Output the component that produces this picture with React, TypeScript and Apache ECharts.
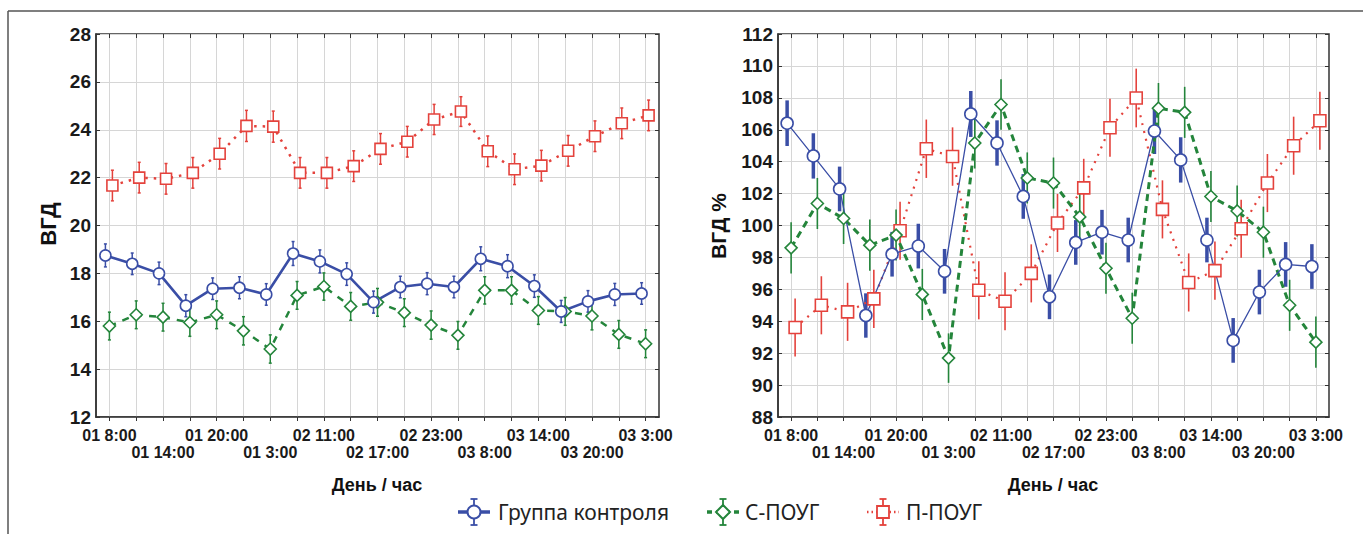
import React, { useEffect, useRef } from "react";
import * as echarts from "echarts";

const categories = [
  "01 8:00", "01 11:00", "01 14:00", "01 17:00", "01 20:00", "01 23:00", "01 3:00",
  "02 8:00", "02 11:00", "02 14:00", "02 17:00", "02 20:00", "02 23:00", "03 4:00",
  "03 8:00", "03 11:00", "03 14:00", "03 17:00", "03 20:00", "03 23:00", "03 3:00",
];

const seriesNames = ["Группа контроля", "С-ПОУГ", "П-ПОУГ"];

// Left panel: ВГД (mm Hg)
const leftTicks = { min: 12, max: 28, interval: 2 };
const ctrlLeft = [18.75, 18.4, 18.0, 16.65, 17.36, 17.4, 17.12, 18.83, 18.5, 17.97, 16.8, 17.43, 17.57, 17.43, 18.61, 18.3, 17.47, 16.41, 16.83, 17.12, 17.16];
const ctrlLeftErr = [0.48, 0.45, 0.47, 0.46, 0.45, 0.46, 0.45, 0.5, 0.48, 0.47, 0.46, 0.45, 0.46, 0.45, 0.5, 0.48, 0.47, 0.46, 0.45, 0.46, 0.45];
const sLeft = [15.8, 16.27, 16.17, 15.95, 16.27, 15.6, 14.84, 17.08, 17.45, 16.62, 16.79, 16.36, 15.84, 15.41, 17.29, 17.29, 16.45, 16.41, 16.22, 15.45, 15.06];
const sLeftErr = [0.58, 0.58, 0.58, 0.58, 0.58, 0.59, 0.59, 0.58, 0.57, 0.58, 0.58, 0.58, 0.59, 0.58, 0.57, 0.57, 0.58, 0.58, 0.58, 0.58, 0.58];
const pLeft = [21.67, 22.0, 21.95, 22.2, 23.0, 24.16, 24.13, 22.2, 22.2, 22.48, 23.2, 23.5, 24.43, 24.76, 23.1, 22.35, 22.5, 23.12, 23.73, 24.27, 24.6];
const pLeftErr = [0.64, 0.64, 0.64, 0.64, 0.64, 0.65, 0.65, 0.64, 0.64, 0.64, 0.64, 0.64, 0.63, 0.62, 0.64, 0.64, 0.64, 0.64, 0.64, 0.64, 0.64];

// Right panel: ВГД %
const rightTicks = { min: 88, max: 112, interval: 2 };
const ctrlRight = [106.41, 104.36, 102.29, 94.36, 98.2, 98.71, 97.13, 106.99, 105.17, 101.82, 95.53, 98.94, 99.58, 99.09, 105.92, 104.11, 99.09, 92.8, 95.83, 97.56, 97.43];
const ctrlRightErr = [1.43, 1.42, 1.4, 1.39, 1.4, 1.4, 1.4, 1.44, 1.42, 1.4, 1.4, 1.4, 1.4, 1.4, 1.44, 1.42, 1.4, 1.4, 1.4, 1.4, 1.4];
const sRight = [98.6, 101.38, 100.44, 98.77, 99.4, 95.68, 91.69, 105.17, 107.58, 102.98, 102.66, 100.54, 97.32, 94.19, 107.35, 107.09, 101.82, 100.91, 99.58, 95.0, 92.69];
const sRightErr = [1.6, 1.6, 1.6, 1.6, 1.6, 1.6, 1.55, 1.6, 1.58, 1.6, 1.6, 1.6, 1.6, 1.6, 1.58, 1.6, 1.6, 1.6, 1.6, 1.6, 1.6];
const pRight = [93.61, 95.0, 94.59, 95.4, 99.67, 104.81, 104.32, 95.94, 95.25, 97.0, 100.16, 102.36, 106.13, 107.99, 101.01, 96.43, 97.17, 99.8, 102.66, 105.0, 106.56];
const pRightErr = [1.82, 1.82, 1.82, 1.82, 1.82, 1.83, 1.83, 1.82, 1.82, 1.82, 1.82, 1.82, 1.82, 1.84, 1.82, 1.82, 1.82, 1.82, 1.82, 1.82, 1.82];

const BLUE = "#3a4ea6";
const GREEN = "#24853b";
const RED = "#e4423c";
const FONT = "Liberation Sans";
const GRID_COLOR = "#d6d6d6";

export default function App() {
  const ref = useRef<HTMLDivElement>(null);

  useEffect(() => {
    const chart = echarts.init(ref.current as HTMLDivElement, null, { renderer: "svg" });
    const grids: any[] = [];
    const xAxis: any[] = [];
    const yAxis: any[] = [];
    const series: any[] = [];

    const labelStyle = { fontSize: 16, fontWeight: "bold", color: "#1a1a1a", fontFamily: FONT, lineHeight: 18 };

    const addPanel = (p: any) => {
      const top = 34;
      const bottom = 117;
      const mainGrid = grids.length;
      grids.push({ left: p.left, right: p.right, top, bottom, show: true, borderColor: "#333", borderWidth: 1.5 });
      const xMain = xAxis.length;
      xAxis.push({
        type: "category", gridIndex: mainGrid, data: categories, boundaryGap: true, position: "bottom",
        axisLine: { show: true, lineStyle: { color: "#333", width: 1.5 } },
        axisTick: { show: true, alignWithLabel: true, interval: 0, length: 4, lineStyle: { color: "#333" } },
        axisLabel: {
          ...labelStyle, interval: (i: number) => i % 4 === 0, margin: 9,
          showMinLabel: true, showMaxLabel: true, hideOverlap: false,
        },
        splitLine: { show: true, interval: 0, alignWithLabel: true, lineStyle: { color: GRID_COLOR, width: 1 } },
      });
      xAxis.push({
        type: "category", gridIndex: mainGrid, data: categories, position: "top",
        axisLine: { show: false },
        axisTick: { show: true, inside: true, alignWithLabel: true, interval: 0, length: 4, lineStyle: { color: "#333" } },
        axisLabel: { show: false }, splitLine: { show: false },
      });
      const yMain = yAxis.length;
      yAxis.push({
        type: "value", gridIndex: mainGrid, min: p.ticks.min, max: p.ticks.max, interval: p.ticks.interval,
        axisLine: { show: true, lineStyle: { color: "#333", width: 1.5 } },
        axisTick: { show: true, inside: true, length: 4, lineStyle: { color: "#333" } },
        axisLabel: { fontSize: 19, fontWeight: "bold", color: "#1a1a1a", fontFamily: FONT, margin: 5 },
        splitLine: { show: true, lineStyle: { color: GRID_COLOR, width: 1 } },
      });
      yAxis.push({
        type: "value", gridIndex: mainGrid, position: "right", min: p.ticks.min, max: p.ticks.max, interval: p.ticks.interval,
        axisLine: { show: false },
        axisTick: { show: true, inside: true, length: 4, lineStyle: { color: "#333" } },
        axisLabel: { show: false }, splitLine: { show: false },
      });

      // second row of category labels
      const labelGrid = grids.length;
      grids.push({ left: p.left, right: p.right, top, bottom, show: false });
      xAxis.push({
        type: "category", gridIndex: labelGrid, data: categories, boundaryGap: true, position: "bottom",
        axisLine: { show: false }, axisTick: { show: false }, splitLine: { show: false },
        axisLabel: {
          ...labelStyle, interval: (i: number) => i % 4 === 2, margin: 26,
          showMinLabel: true, showMaxLabel: true, hideOverlap: false,
        },
      });
      yAxis.push({ type: "value", gridIndex: labelGrid, min: p.ticks.min, max: p.ticks.max, interval: p.ticks.interval, show: false });

      p.groups.forEach((g: any) => {
        let gx = xMain;
        let gy = yMain;
        if (g.offset !== 0) {
          const gi = grids.length;
          grids.push({ left: p.left + g.offset, right: p.right - g.offset, top, bottom, show: false });
          gx = xAxis.length;
          xAxis.push({ type: "category", gridIndex: gi, data: categories, boundaryGap: true, show: false });
          gy = yAxis.length;
          yAxis.push({ type: "value", gridIndex: gi, min: p.ticks.min, max: p.ticks.max, interval: p.ticks.interval, show: false });
        }
        series.push({
          type: "custom", name: g.name + " err", xAxisIndex: gx, yAxisIndex: gy, z: 2, silent: true,
          encode: { x: 0, y: [1, 2] },
          data: g.values.map((v: number, i: number) => [i, v - g.errors[i], v + g.errors[i]]),
          renderItem: (_params: any, api: any) => {
            const x = api.value(0);
            const lo = api.coord([x, api.value(1)]);
            const hi = api.coord([x, api.value(2)]);
            const style = { stroke: g.color, lineWidth: g.errWidth };
            const children: any[] = [
              { type: "line", shape: { x1: lo[0], y1: lo[1], x2: hi[0], y2: hi[1] }, style },
            ];
            if (g.cap > 0) {
              children.push({ type: "line", shape: { x1: lo[0] - g.cap, y1: lo[1], x2: lo[0] + g.cap, y2: lo[1] }, style });
              children.push({ type: "line", shape: { x1: hi[0] - g.cap, y1: hi[1], x2: hi[0] + g.cap, y2: hi[1] }, style });
            }
            return { type: "group", children };
          },
        });
        series.push({
          type: "line", name: g.name, xAxisIndex: gx, yAxisIndex: gy, z: 3,
          data: g.values, symbol: g.symbol, symbolSize: g.symbolSize, showSymbol: true, showAllSymbol: true,
          lineStyle: { color: g.color, width: g.lineWidth, type: g.lineType, cap: "butt" },
          itemStyle: { color: "#fff", borderColor: g.color, borderWidth: 1.6 },
        });
      });
    };

    addPanel({
      left: 96, right: 704, ticks: leftTicks,
      groups: [
        { name: seriesNames[2], values: pLeft, errors: pLeftErr, color: RED, offset: 3, lineWidth: 2.5, lineType: [2.5, 6], symbol: "rect", symbolSize: 11, errWidth: 1.5, cap: 1.5 },
        { name: seriesNames[1], values: sLeft, errors: sLeftErr, color: GREEN, offset: 0, lineWidth: 2.5, lineType: [7, 7], symbol: "diamond", symbolSize: 12, errWidth: 1.5, cap: 1.5 },
        { name: seriesNames[0], values: ctrlLeft, errors: ctrlLeftErr, color: BLUE, offset: -4, lineWidth: 2.6, lineType: "solid", symbol: "circle", symbolSize: 11, errWidth: 1.5, cap: 1.5 },
      ],
    });
    addPanel({
      left: 778, right: 34, ticks: rightTicks,
      groups: [
        { name: seriesNames[2], values: pRight, errors: pRightErr, color: RED, offset: 4, lineWidth: 2.2, lineType: [2, 6], symbol: "rect", symbolSize: 12, errWidth: 1.6, cap: 0 },
        { name: seriesNames[1], values: sRight, errors: sRightErr, color: GREEN, offset: 0, lineWidth: 3, lineType: [7, 5], symbol: "diamond", symbolSize: 12, errWidth: 1.6, cap: 0 },
        { name: seriesNames[0], values: ctrlRight, errors: ctrlRightErr, color: BLUE, offset: -4, lineWidth: 1.3, lineType: "solid", symbol: "circle", symbolSize: 12, errWidth: 3.5, cap: 0 },
      ],
    });

    const ly = 512;
    const legendItem = (cx: number, color: string, lineType: any, lineWidth: number, symbol: string, textX: number, text: string) => {
      const els: any[] = [
        { type: "line", shape: { x1: cx - 16, y1: ly, x2: cx + 16, y2: ly }, style: { stroke: color, lineWidth, lineDash: lineType } },
        { type: "line", shape: { x1: cx, y1: ly - 13, x2: cx, y2: ly + 13 }, style: { stroke: color, lineWidth: 1.8 } },
        { type: "line", shape: { x1: cx - 3.5, y1: ly - 13, x2: cx + 3.5, y2: ly - 13 }, style: { stroke: color, lineWidth: 1.8 } },
        { type: "line", shape: { x1: cx - 3.5, y1: ly + 13, x2: cx + 3.5, y2: ly + 13 }, style: { stroke: color, lineWidth: 1.8 } },
      ];
      if (symbol === "circle") {
        els.push({ type: "circle", shape: { cx, cy: ly, r: 6.5 }, style: { fill: "#fff", stroke: color, lineWidth: 2 } });
      } else if (symbol === "diamond") {
        els.push({ type: "polygon", shape: { points: [[cx, ly - 7], [cx + 7, ly], [cx, ly + 7], [cx - 7, ly]] }, style: { fill: "#fff", stroke: color, lineWidth: 2 } });
      } else {
        els.push({ type: "rect", shape: { x: cx - 6, y: ly - 6, width: 12, height: 12 }, style: { fill: "#fff", stroke: color, lineWidth: 1.8 } });
      }
      els.push({
        type: "text", x: textX, y: ly,
        style: { text, fill: "#222", fontSize: 21, fontFamily: "Noto Sans", align: "left", verticalAlign: "middle" },
      });
      return els;
    };

    const graphic: any[] = [
      { type: "line", shape: { x1: 8, y1: 11, x2: 1363, y2: 11 }, style: { stroke: "#555", lineWidth: 1.5 } },
      { type: "line", shape: { x1: 8, y1: 11, x2: 8, y2: 534 }, style: { stroke: "#555", lineWidth: 1.5 } },
      { type: "text", x: 48, y: 224, rotation: Math.PI / 2, style: { text: "ВГД", fill: "#111", fontSize: 22, fontWeight: "bold", fontFamily: FONT, align: "center", verticalAlign: "middle" } },
      { type: "text", x: 718, y: 226, rotation: Math.PI / 2, style: { text: "ВГД %", fill: "#111", fontSize: 21, fontWeight: "bold", fontFamily: FONT, align: "center", verticalAlign: "middle" } },
      { type: "text", x: 377, y: 485, style: { text: "День / час", fill: "#111", fontSize: 18, fontWeight: "bold", fontFamily: FONT, align: "center", verticalAlign: "middle" } },
      { type: "text", x: 1053, y: 485, style: { text: "День / час", fill: "#111", fontSize: 18, fontWeight: "bold", fontFamily: FONT, align: "center", verticalAlign: "middle" } },
      ...legendItem(474, BLUE, null, 3.5, "circle", 498, seriesNames[0]),
      ...legendItem(723, GREEN, [5, 4], 3.5, "diamond", 745, seriesNames[1]),
      ...legendItem(883, RED, [1.5, 3], 2.5, "rect", 906, seriesNames[2]),
    ];

    chart.setOption({
      animation: false,
      backgroundColor: "#fff",
      textStyle: { fontFamily: FONT },
      grid: grids,
      xAxis,
      yAxis,
      series,
      graphic,
    });

    return () => chart.dispose();
  }, []);

  return <div ref={ref} style={{ position: "fixed", left: 0, top: 0, width: 1363, height: 534 }} />;
}
